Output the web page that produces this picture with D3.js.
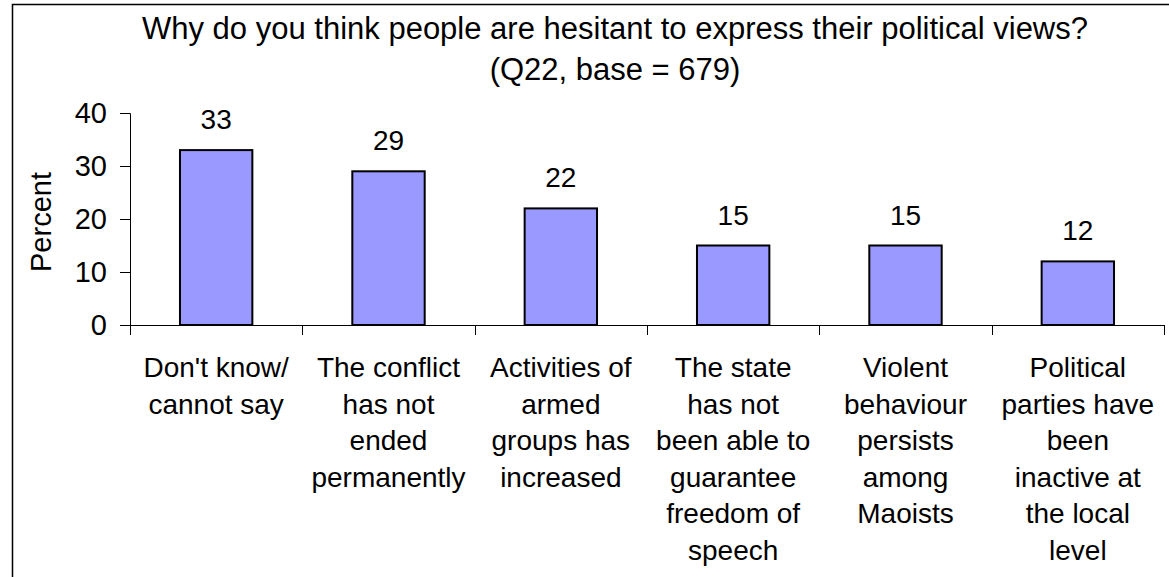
<!DOCTYPE html>
<html>
<head>
<meta charset="utf-8">
<script src="https://cdn.jsdelivr.net/npm/d3@7"></script>
<style>
  html, body { margin: 0; padding: 0; background: #fff; }
  svg { display: block; font-family: "Liberation Sans", Arial, sans-serif; }
</style>
</head>
<body>
<svg id="chart" width="1169" height="577"></svg>
<script>
// Survey responses, Q22
const titleLines = ["Why do you think people are hesitant to express their political views?", "(Q22, base = 679)"];
const categories = [
  ["Don't know/", "cannot say"],
  ["The conflict", "has not", "ended", "permanently"],
  ["Activities of", "armed", "groups has", "increased"],
  ["The state", "has not", "been able to", "guarantee", "freedom of", "speech"],
  ["Violent", "behaviour", "persists", "among", "Maoists"],
  ["Political", "parties have", "been", "inactive at", "the local", "level"]
];
const values = [33, 29, 22, 15, 15, 12];
const yTicks = [0, 10, 20, 30, 40];
const yLabel = "Percent";

const svg = d3.select("#chart");
const plot = { left: 130, right: 1164, top: 113, bottom: 325 };

// outer frame
svg.append("rect")
  .attr("x", 12.5).attr("y", 4.5)
  .attr("width", 1300).attr("height", 700)
  .attr("fill", "#fff").attr("stroke", "#000").attr("stroke-width", 1.5);

const x = d3.scaleBand()
  .domain(d3.range(categories.length))
  .range([plot.left, plot.right])
  .paddingInner(0.58).paddingOuter(0.29);

const xTickScale = d3.scaleLinear()
  .domain([0, categories.length])
  .range([plot.left, plot.right]);

const y = d3.scaleLinear().domain([0, 40]).range([plot.bottom, plot.top]);

// title
svg.append("text")
  .attr("x", 615).attr("y", 39)
  .attr("text-anchor", "middle")
  .attr("font-size", 31)
  .selectAll("tspan").data(titleLines).join("tspan")
  .attr("x", 615)
  .attr("dy", (d, i) => i === 0 ? 0 : 41)
  .text(d => d);

// y axis
const yAxis = d3.axisLeft(y).tickValues(yTicks).tickSize(10).tickPadding(13);
const gy = svg.append("g").attr("transform", `translate(${plot.left},0)`).call(yAxis);
gy.select(".domain").attr("stroke", "#000").attr("d", `M-10,${plot.top}.5H0.5V${plot.bottom + 10}`);
gy.selectAll(".tick line").attr("stroke", "#000");
gy.selectAll(".tick text")
  .attr("font-size", 29)
  .attr("font-family", "Liberation Sans, Arial, sans-serif")
  .attr("fill", "#000");

// x axis baseline with category ticks
const gx = svg.append("g");
gx.append("line")
  .attr("x1", plot.left - 10).attr("x2", plot.right)
  .attr("y1", plot.bottom + 0.5).attr("y2", plot.bottom + 0.5)
  .attr("stroke", "#000");
gx.selectAll("line.ct").data(d3.range(1, categories.length + 1)).join("line")
  .attr("class", "ct")
  .attr("x1", d => Math.round(xTickScale(d)) + 0.5).attr("x2", d => Math.round(xTickScale(d)) + 0.5)
  .attr("y1", plot.bottom).attr("y2", plot.bottom + 10)
  .attr("stroke", "#000");

// y axis title
svg.append("text")
  .attr("transform", `translate(51,222) rotate(-90)`)
  .attr("text-anchor", "middle")
  .attr("font-size", 29)
  .text(yLabel);

// bars
svg.append("g").selectAll("rect").data(values).join("rect")
  .attr("x", (d, i) => x(i))
  .attr("y", d => y(d))
  .attr("width", x.bandwidth())
  .attr("height", d => y(0) - y(d))
  .attr("fill", "#9999FF")
  .attr("stroke", "#000")
  .attr("stroke-width", 2);

// value labels
svg.append("g").selectAll("text").data(values).join("text")
  .attr("x", (d, i) => x(i) + x.bandwidth() / 2)
  .attr("y", d => y(d) - 21)
  .attr("text-anchor", "middle")
  .attr("font-size", 28)
  .text(d => d);

// category labels
const cg = svg.append("g").selectAll("text").data(categories).join("text")
  .attr("x", (d, i) => x(i) + x.bandwidth() / 2)
  .attr("y", 377)
  .attr("text-anchor", "middle")
  .attr("font-size", 28);
cg.selectAll("tspan").data(d => d).join("tspan")
  .attr("x", function () { return d3.select(this.parentNode).attr("x"); })
  .attr("dy", (d, i) => i === 0 ? 0 : 36.5)
  .text(d => d);
</script>
</body>
</html>
